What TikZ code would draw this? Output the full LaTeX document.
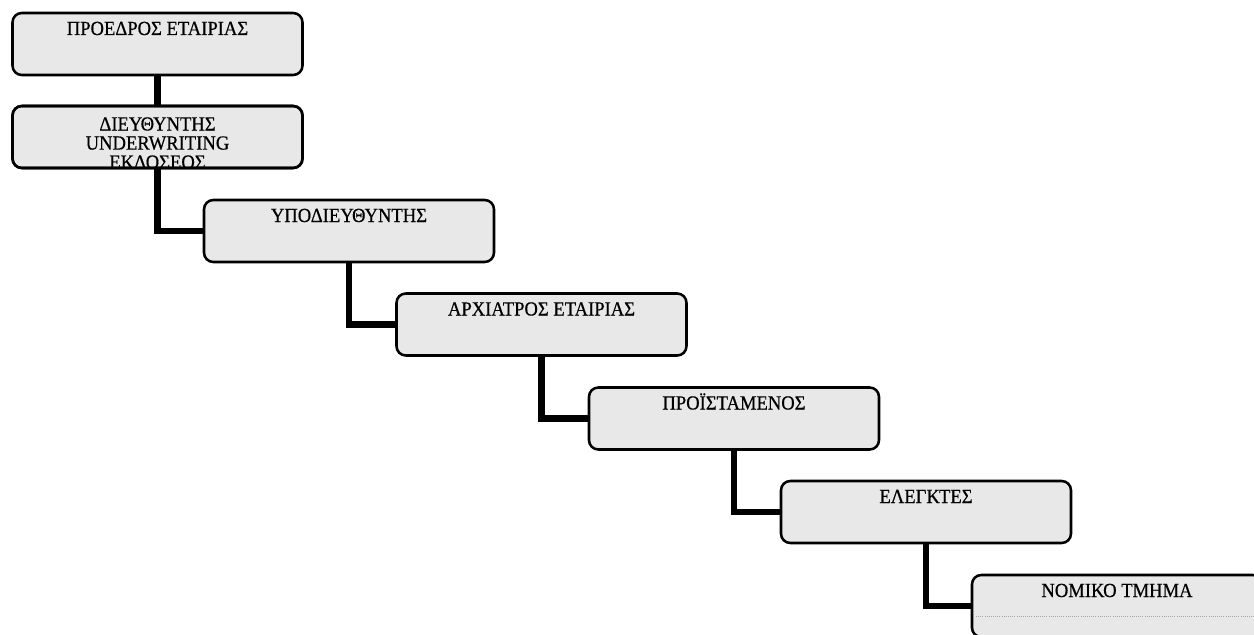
\documentclass[tikz,border=0pt]{standalone}
\usepackage{fontspec}
\setmainfont{Liberation Serif}[FakeStretch=0.93, FakeBold=0.5]
\definecolor{boxgray}{HTML}{E8E8E8}
\begin{document}
\begin{tikzpicture}[x=0.75pt,y=-0.75pt,
  boxfont/.style={font=\fontsize{15}{14.3}\selectfont},
  box/.style={draw=black, line width=1.9pt, rounded corners=7pt, fill=boxgray,
    minimum width=217.5pt, minimum height=46.5pt, inner xsep=0pt, inner ysep=0pt,
    outer sep=0pt, text height=16.5pt, text depth=30pt, boxfont},
  link/.style={draw=black, line width=5.2pt, line join=miter}]
\useasboundingbox (0,0) rectangle (1254,635);
\clip (0,0) rectangle (1254,635);
\fill[white] (0,0) rectangle (1254,635);

\node[box] (b1) at (157.5,44) {ΠΡΟΕΔΡΟΣ ΕΤΑΙΡΙΑΣ};
\node[box] (b2) at (157.5,137) {};
\node[box] (b3) at (349,231) {ΥΠΟΔΙΕΥΘΥΝΤΗΣ};
\node[box] (b4) at (541.5,324.5) {ΑΡΧΙΑΤΡΟΣ ΕΤΑΙΡΙΑΣ};
\node[box] (b5) at (734,418.5) {ΠΡΟΪΣΤΑΜΕΝΟΣ};
\node[box] (b6) at (926,512) {ΕΛΕΓΚΤΕΣ};
\node[box] (b7) at (1117,606) {ΝΟΜΙΚΟ ΤΜΗΜΑ};

\begin{scope}
  \clip (b2.north west) rectangle (b2.south east);
  \node[anchor=north, align=center, inner sep=0pt, boxfont] (t2) at (157.5,117)
    {ΔΙΕΥΘΥΝΤΗΣ\\UNDERWRITING\\ΕΚΔΟΣΕΟΣ};
\end{scope}
\draw[black, line width=1.9pt, rounded corners=7pt] (b2.north west) rectangle (b2.south east);

\draw[gray!70, line width=0.6pt, densely dotted] (976,616) -- (1254,616);

\draw[link] (b1.south) -- (b2.north);
\draw[link] (b2.south) |- (b3.west);
\draw[link] (b3.south) |- (b4.west);
\draw[link] (b4.south) |- (b5.west);
\draw[link] (b5.south) |- (b6.west);
\draw[link] (b6.south) |- (b7.west);
\end{tikzpicture}
\end{document}
